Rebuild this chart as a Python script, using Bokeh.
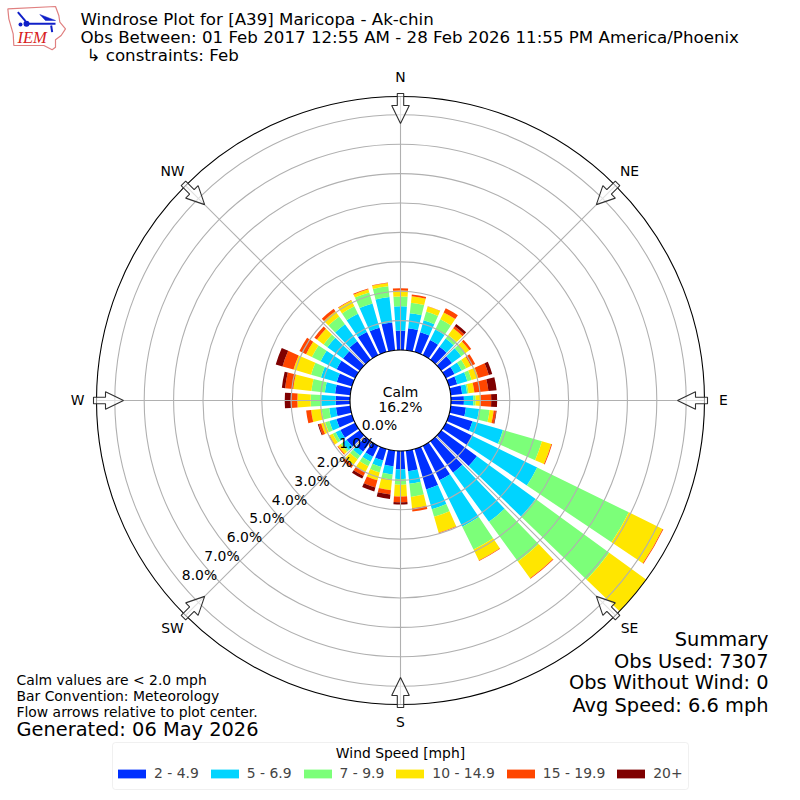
from bokeh.plotting import figure
from bokeh.models import ColumnDataSource, Legend, LegendItem, BoxAnnotation, Range1d
from bokeh.core.properties import value
from bokeh.embed import file_html
from bokeh.resources import INLINE
import math

directions = list(range(0, 360, 10))
speed_labels = ["2 - 4.9", "5 - 6.9", "7 - 9.9", "10 - 14.9", "15 - 19.9", "20+"]
speed_colors = ["#0030ff", "#00d4ff", "#7cff79", "#ffe600", "#ff4600", "#7f0000"]

bin_2_5 = [.66,.75,.70,.57,.54,.45,.33,.29,.39,.44,.52,.83,1.00,1.50,1.32,1.30,1.43,.70,
           .63,.53,.41,.41,.44,.55,.56,.55,.49,.49,.52,.54,.70,.70,.78,.88,.86,.95]
bin_5_7 = [.83,.52,.42,.40,.35,.39,.27,.36,.17,.32,.45,1.08,2.46,2.47,2.07,1.76,.70,.43,
           .32,.28,.23,.19,.17,.17,.18,.25,.23,.49,.35,.56,.61,.66,.71,.69,.86,.87]
bin_7_10 = [.33,.36,.31,.39,.15,.17,.17,.15,.05,.08,.36,1.38,3.47,3.10,1.67,.87,.27,.45,
            .20,.18,.19,.17,.15,.08,.11,.15,.26,.36,.46,.35,.33,.16,.33,.28,.39,.37]
bin_10_15 = [.20,.22,.18,.26,.28,.17,.18,.24,.20,.17,.14,.33,1.28,1.55,.70,.41,.56,.39,
             .40,.36,.28,.23,.25,.11,.12,.14,.36,.45,.62,.62,.22,.28,.22,.22,.11,.11]
bin_15_20 = [.08,.06,.01,.16,.09,.08,.16,.37,.48,.36,.08,.03,.03,0,.03,.02,.02,.11,
             .19,.15,.25,.14,.09,.03,.02,.09,.17,.23,.28,.39,.25,.11,.10,.02,.03,.02]
bin_20_up = [0,0,0,0,.09,0,0,.12,.28,.20,.02,0,0,0,0,0,0,0,
             .08,.15,.14,.10,.02,0,0,.03,0,.20,.11,.24,0,0,0,0,0,0]
bins = [bin_2_5, bin_5_7, bin_7_10, bin_10_15, bin_15_20, bin_20_up]

ring_values = [1, 2, 3, 4, 5, 6, 7, 8]
ring_labels = ["0.0%", "1.0%", "2.0%", "3.0%", "4.0%", "5.0%", "6.0%", "7.0%", "8.0%"]
compass = ["N", "NE", "E", "SE", "S", "SW", "W", "NW"]

S = 29.4          # pixels per percent
HOLE = 50.5 / S   # calm hole radius
OUTER = 304 / S
HALF = math.radians(3.9)

p = figure(width=800, height=800, output_backend="svg", toolbar_location=None,
           x_axis_type=None, y_axis_type=None, min_border=0,
           x_range=Range1d(-400 / S, 400 / S), y_range=Range1d(-400 / S, 400 / S))
p.outline_line_color = None
p.grid.visible = False
p.background_fill_color = "white"
p.border_fill_color = "white"

def X(px): return (px - 400) / S
def Y(py): return (400 - py) / S

def txt(px, py, s, size, align="left", color="black", font="DejaVu Sans", style="normal"):
    p.text(x=[X(px)], y=[Y(py - 1)], text=[s], text_font=value(font), text_font_size=size,
           text_align=align, text_baseline="middle", text_color=color, text_font_style=style)

# bars
cum = [0.0] * len(directions)
renderers = []
for vals, col in zip(bins, speed_colors):
    inner = [HOLE + c for c in cum]
    cum = [c + v for c, v in zip(cum, vals)]
    outer = [HOLE + c for c in cum]
    src = ColumnDataSource(dict(
        x=[0] * len(directions), y=[0] * len(directions),
        inner=inner, outer=outer,
        start=[math.radians(90 - d) - HALF for d in directions],
        end=[math.radians(90 - d) + HALF for d in directions]))
    r = p.annular_wedge(x="x", y="y", inner_radius="inner", outer_radius="outer",
                        start_angle="start", end_angle="end", source=src,
                        fill_color=col, line_color=None)
    renderers.append(r)

# grid
GRID = "#b0b0b0"
for rv in ring_values:
    p.circle(x=[0], y=[0], radius=[HOLE + rv], fill_color=None, line_color=GRID, line_width=1.1)
ang = [math.radians(a) for a in range(0, 360, 45)]
p.segment(x0=[HOLE * math.cos(a) for a in ang], y0=[HOLE * math.sin(a) for a in ang],
          x1=[OUTER * math.cos(a) for a in ang], y1=[OUTER * math.sin(a) for a in ang],
          line_color=GRID, line_width=1.1)
p.circle(x=[0], y=[0], radius=[HOLE], fill_color="white", line_color="black", line_width=1.1)
p.circle(x=[0], y=[0], radius=[OUTER], fill_color=None, line_color="black", line_width=1.1)

# compass arrows
shape = [(307, -3.2), (295, -3.2), (295, -8.8), (277, 0), (295, 8.8), (295, 3.2), (307, 3.2)]
xs, ys = [], []
for a in ang:
    ca, sa = math.cos(a), math.sin(a)
    xs.append([(r * ca - w * sa) / S for r, w in shape])
    ys.append([(r * sa + w * ca) / S for r, w in shape])
p.patches(xs, ys, fill_color="white", fill_alpha=0.6, line_color="#303030", line_width=1.1)

# compass labels
for name, (px, py) in zip(compass, [(400, 77), (629, 171), (723, 400), (629, 628),
                                    (400, 722), (172, 628), (77, 400), (172, 171)]):
    txt(px, py, name, "13.9px", "center")

# ring labels
for i, s in enumerate(ring_labels):
    txt(379 - i * 22.5, 425 + i * 18.75, s, "13.9px", "center")

txt(400, 392, "Calm", "13.9px", "center")
txt(400, 407, "16.2%", "13.9px", "center")

# titles
txt(80, 20, "Windrose Plot for [A39] Maricopa - Ak-chin", "16.67px")
txt(80, 38, "Obs Between: 01 Feb 2017 12:55 AM - 28 Feb 2026 11:55 PM America/Phoenix", "16.67px")
txt(86, 56, "↳ constraints: Feb", "16.67px")

# summary
for s, py in zip(["Summary", "Obs Used: 7307", "Obs Without Wind: 0", "Avg Speed: 6.6 mph"],
                 [640, 662, 683, 706]):
    txt(768, py, s, "19.4px", "right")

# notes
for s, py in zip(["Calm values are < 2.0 mph", "Bar Convention: Meteorology",
                  "Flow arrows relative to plot center."], [680, 696, 712]):
    txt(16, py, s, "13.9px")
txt(16, 730, "Generated: 06 May 2026", "19.4px")

# logo
ox = [22, 165, 175, 178, 195, 182, 165, 165, 155, 130, 40, 38, 25]
oy = [25, 18, 45, 65, 85, 105, 118, 140, 148, 135, 135, 100, 55]
p.patch([X(v / 3) for v in ox], [Y(v / 3) for v in oy], fill_color="white",
        line_color="#e08080", line_width=1.2)
BLUE = "#1020c8"
p.segment(x0=[X(80 / 3), X(52 / 3), X(152 / 3)], y0=[Y(70 / 3), Y(35 / 3), Y(75 / 3)],
          x1=[X(165 / 3), X(75 / 3), X(155 / 3)], y1=[Y(70 / 3), Y(62 / 3), Y(95 / 3)],
          line_color=BLUE, line_width=2)
p.patch([X(118 / 3), X(165 / 3), X(135 / 3)], [Y(42 / 3), Y(60 / 3), Y(60 / 3)],
        fill_color=BLUE, line_color=BLUE, line_width=0.5)
p.scatter(x=[X(78 / 3), X(60 / 3)], y=[Y(70 / 3), Y(72 / 3)], size=[6, 4], marker="circle",
          fill_color=BLUE, line_color=None)
txt(17, 38, "IEM", "16.5px", color="#d82020", font="Liberation Serif", style="italic")

# legend
p.add_layout(BoxAnnotation(left=X(112), right=X(688), top=Y(742), bottom=Y(789),
                           fill_color="white", fill_alpha=1, line_color="#cccccc",
                           line_width=1, border_radius=3, level="underlay"))
txt(400, 753, "Wind Speed [mph]", "13.9px", "center")
legend = Legend(items=[LegendItem(label=l, renderers=[r]) for l, r in zip(speed_labels, renderers)],
                orientation="horizontal", location=(114, 19),
                background_fill_alpha=0, border_line_color=None,
                glyph_width=35, glyph_height=11, label_standoff=5, spacing=8,
                label_text_font="DejaVu Sans", label_text_font_size="13.9px",
                padding=7, margin=0, click_policy="none", level="overlay")
p.add_layout(legend)

open("out.html", "w").write(file_html(p, INLINE))
